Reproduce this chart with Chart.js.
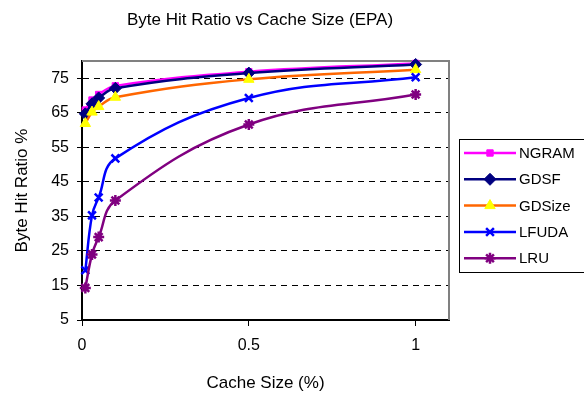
<!doctype html>
<html>
<head>
<meta charset="utf-8">
<script src="https://cdn.jsdelivr.net/npm/chart.js@4"></script>
<style>
  html, body { margin: 0; padding: 0; background: #fff; }
  #wrap { width: 584px; height: 400px; position: relative; }
</style>
</head>
<body>
<div id="wrap"><canvas id="chart"></canvas></div>
<script>
// cache size in %
const cacheSizes = [0.01, 0.03, 0.05, 0.1, 0.5, 1]
const ngram = [65.8, 68.7, 70.3, 72.8, 76.9, 79.3]
const gdsf = [64.7, 67.6, 69.3, 72.1, 76.5, 79]
const gdsize = [61.9, 65.2, 66.8, 69.5, 74.7, 77.5]
const lfuda = [19.4, 35.3, 40.5, 51.8, 69.3, 75.3]
const lru = [14.3, 24, 29, 39.6, 61.6, 70.3]

const xTicks = [0, 0.5, 1]
const yTicks = [5, 15, 25, 35, 45, 55, 65, 75]

const FONT = '"Liberation Sans", Arial, sans-serif'

const series = [
  { label: 'NGRAM', data: ngram, line: '#FF00FF', fill: '#FF00FF', style: 'rect', radius: 4.5 },
  { label: 'GDSF', data: gdsf, line: '#000080', fill: '#000080', style: 'rectRot', radius: 6 },
  { label: 'GDSize', data: gdsize, line: '#FF6600', fill: '#FFFF00', style: 'triangle', radius: 6 },
  { label: 'LFUDA', data: lfuda, line: '#0000FF', fill: '#0000FF', style: 'crossRot', radius: 5.5 },
  { label: 'LRU', data: lru, line: '#800080', fill: '#800080', style: 'star', radius: 5.5 }
]

const toPoints = (ys) => cacheSizes.map((x, i) => ({ x, y: ys[i] }))

// plot frame (gray top/right), title, and the boxed legend
const excelBits = {
  id: 'excelBits',
  beforeDatasetsDraw(chart) {
    const { ctx, chartArea: a } = chart
    ctx.save()
    ctx.strokeStyle = '#808080'
    ctx.lineWidth = 2
    ctx.beginPath()
    ctx.moveTo(a.left, a.top)
    ctx.lineTo(a.right, a.top)
    ctx.lineTo(a.right, a.bottom)
    ctx.stroke()
    ctx.restore()
  },
  afterDraw(chart) {
    const { ctx } = chart
    ctx.save()
    ctx.fillStyle = '#000'
    ctx.font = '17px ' + FONT
    ctx.textAlign = 'center'
    ctx.textBaseline = 'middle'
    ctx.fillText('Byte Hit Ratio vs Cache Size (EPA)', 260, 20)

    // legend box
    ctx.strokeStyle = '#000'
    ctx.lineWidth = 1
    ctx.strokeRect(459.5, 139.5, 130, 133)
    ctx.font = '15px ' + FONT
    ctx.textAlign = 'left'
    series.forEach((s, i) => {
      const y = 153 + i * 26.3
      ctx.strokeStyle = s.line
      ctx.lineWidth = 2.5
      ctx.beginPath()
      ctx.moveTo(464, y)
      ctx.lineTo(516, y)
      ctx.stroke()
      ctx.fillStyle = s.fill
      ctx.strokeStyle = s.style === 'triangle' ? s.fill : s.line
      ctx.lineWidth = s.style === 'crossRot' || s.style === 'star' ? 2.5 : 1
      Chart.helpers.drawPoint(ctx, { pointStyle: s.style, radius: s.radius, rotation: 0, borderWidth: ctx.lineWidth }, 490, y)
      ctx.fillStyle = '#000'
      ctx.fillText(s.label, 519, y + 1)
    })
    ctx.restore()
  }
}

new Chart(document.getElementById('chart'), {
  type: 'line',
  data: {
    datasets: series.map((s, i) => ({
      label: s.label,
      data: toPoints(s.data),
      borderColor: s.line,
      borderWidth: 2.5,
      backgroundColor: s.fill,
      pointStyle: s.style,
      pointRadius: s.radius,
      pointBackgroundColor: s.fill,
      pointBorderColor: s.style === 'triangle' ? s.fill : s.line,
      pointBorderWidth: s.style === 'crossRot' || s.style === 'star' ? 2.5 : 1,
      tension: 0.4,
      clip: false,
      order: series.length - i
    }))
  },
  options: {
    responsive: true,
    maintainAspectRatio: false,
    animation: false,
    layout: { padding: { top: 61, right: 135, left: 0, bottom: 0 } },
    plugins: {
      legend: { display: false },
      tooltip: { enabled: false },
      title: { display: false }
    },
    scales: {
      x: {
        type: 'linear',
        min: 0,
        max: 1.1,
        afterBuildTicks: (s) => { s.ticks = xTicks.map((v) => ({ value: v })) },
        afterFit: (s) => { s.height = 80 },
        grid: { drawOnChartArea: false, tickLength: 6, tickColor: '#000', tickWidth: 1 },
        border: { color: '#000', width: 2 },
        ticks: { color: '#000', font: { family: FONT, size: 16 }, padding: 10, maxRotation: 0, callback: (v) => String(v) },
        title: { display: true, text: 'Cache Size (%)', color: '#000', font: { family: FONT, size: 17 }, padding: { top: 0, bottom: 6 } }
      },
      y: {
        type: 'linear',
        min: 5,
        max: 80,
        afterBuildTicks: (s) => { s.ticks = yTicks.map((v) => ({ value: v })) },
        afterFit: (s) => { s.width = 82 },
        grid: { color: '#000', lineWidth: 1, tickLength: 5, tickColor: '#000', tickBorderDash: [] },
        border: { color: '#000', width: 2, dash: [6, 5] },
        ticks: { color: '#000', font: { family: FONT, size: 16 }, padding: 8 },
        title: { display: true, text: 'Byte Hit Ratio %', color: '#000', font: { family: FONT, size: 17 }, padding: { top: 12, bottom: 0 } }
      }
    }
  },
  plugins: [excelBits]
})
</script>
</body>
</html>
